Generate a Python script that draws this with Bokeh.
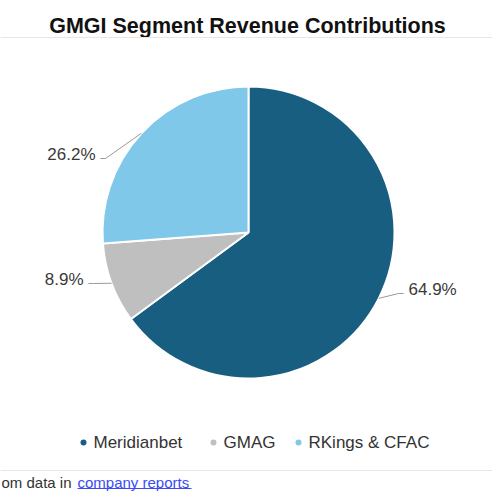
import math
from bokeh.plotting import figure
from bokeh.models import Range1d, ColumnDataSource
from bokeh.core.properties import value
from bokeh.embed import file_html
from bokeh.resources import INLINE

# ---- data ----
categories = ["Meridianbet", "GMAG", "RKings & CFAC"]
shares = [64.9, 8.9, 26.2]
colors = ["#175e80", "#bfbfbf", "#7fc8ea"]
title_text = "GMGI Segment Revenue Contributions"
footer_text = "om data in "
footer_link = "company reports"

# ---- layout (pixel-based data space) ----
W, H = 492, 492
FONT = "Liberation Sans"
cx, cy, r = 248, H - 232, 146

p = figure(width=W, height=H, x_range=Range1d(0, W), y_range=Range1d(0, H),
           output_backend="svg", toolbar_location=None, min_border=0)
p.axis.visible = False
p.grid.visible = False
p.outline_line_color = None
p.background_fill_color = "white"

# wedges
starts, ends, mids = [], [], []
cum = 0.0
for s in shares:
    a0 = math.pi / 2 - 2 * math.pi * cum / 100.0
    a1 = math.pi / 2 - 2 * math.pi * (cum + s) / 100.0
    starts.append(a0)
    ends.append(a1)
    mids.append((a0 + a1) / 2)
    cum += s

src = ColumnDataSource(dict(start=starts, end=ends, color=colors, cat=categories))
p.wedge(x=cx, y=cy, radius=r, start_angle="start", end_angle="end",
        direction="clock", fill_color="color", line_color="white", line_width=2,
        source=src)

# data labels with connectors
label_elbows = [(150, -61), (-155, -51), (-143, 74)]  # offsets from centre
for i, s in enumerate(shares):
    ex = cx + r * math.cos(mids[i])
    ey = cy + r * math.sin(mids[i])
    dx, dy = label_elbows[i]
    bx, by = cx + dx, cy + dy
    side = 1 if dx > 0 else -1
    sx = bx + side * 5
    p.line([ex, bx, sx], [ey, by, by], line_color="#999999", line_width=1)
    p.text(x=[sx + side * 5], y=[by + 4], text=[f"{s}%"],
           text_font=value(FONT), text_font_size="17px", text_color="#3a3a3a",
           text_align="left" if side > 0 else "right", text_baseline="middle")

# title
p.text(x=[247], y=[H - 25], text=[title_text], text_font=value(FONT),
       text_font_size="21.5px", text_font_style="bold", text_color="#111111",
       text_align="center", text_baseline="middle")

# separator lines
p.line([0, W], [H - 37, H - 37], line_color="#e6e6e6", line_width=1)
p.line([0, W], [H - 470, H - 470], line_color="#e6e6e6", line_width=1)

# legend
leg_x = [83, 213, 298]
leg_y = H - 442
p.scatter(x=leg_x, y=[leg_y] * 3, size=6, marker="circle",
          fill_color=colors, line_color=None)
p.text(x=[x + 10 for x in leg_x], y=[leg_y] * 3, text=categories,
       text_font=value(FONT), text_font_size="17px", text_color="#333333",
       text_align="left", text_baseline="middle")

# footer
fy = H - 482
p.text(x=[1], y=[fy], text=[footer_text], text_font=value(FONT),
       text_font_size="15px", text_color="#333333", text_align="left",
       text_baseline="middle")
link_x = 77
p.text(x=[link_x], y=[fy], text=[footer_link], text_font=value(FONT),
       text_font_size="15px", text_color="#3b4cf5", text_align="left",
       text_baseline="middle")
p.line([link_x, link_x + 114], [fy - 6, fy - 6], line_color="#3b4cf5", line_width=1)

open("out.html", "w").write(file_html(p, INLINE))
